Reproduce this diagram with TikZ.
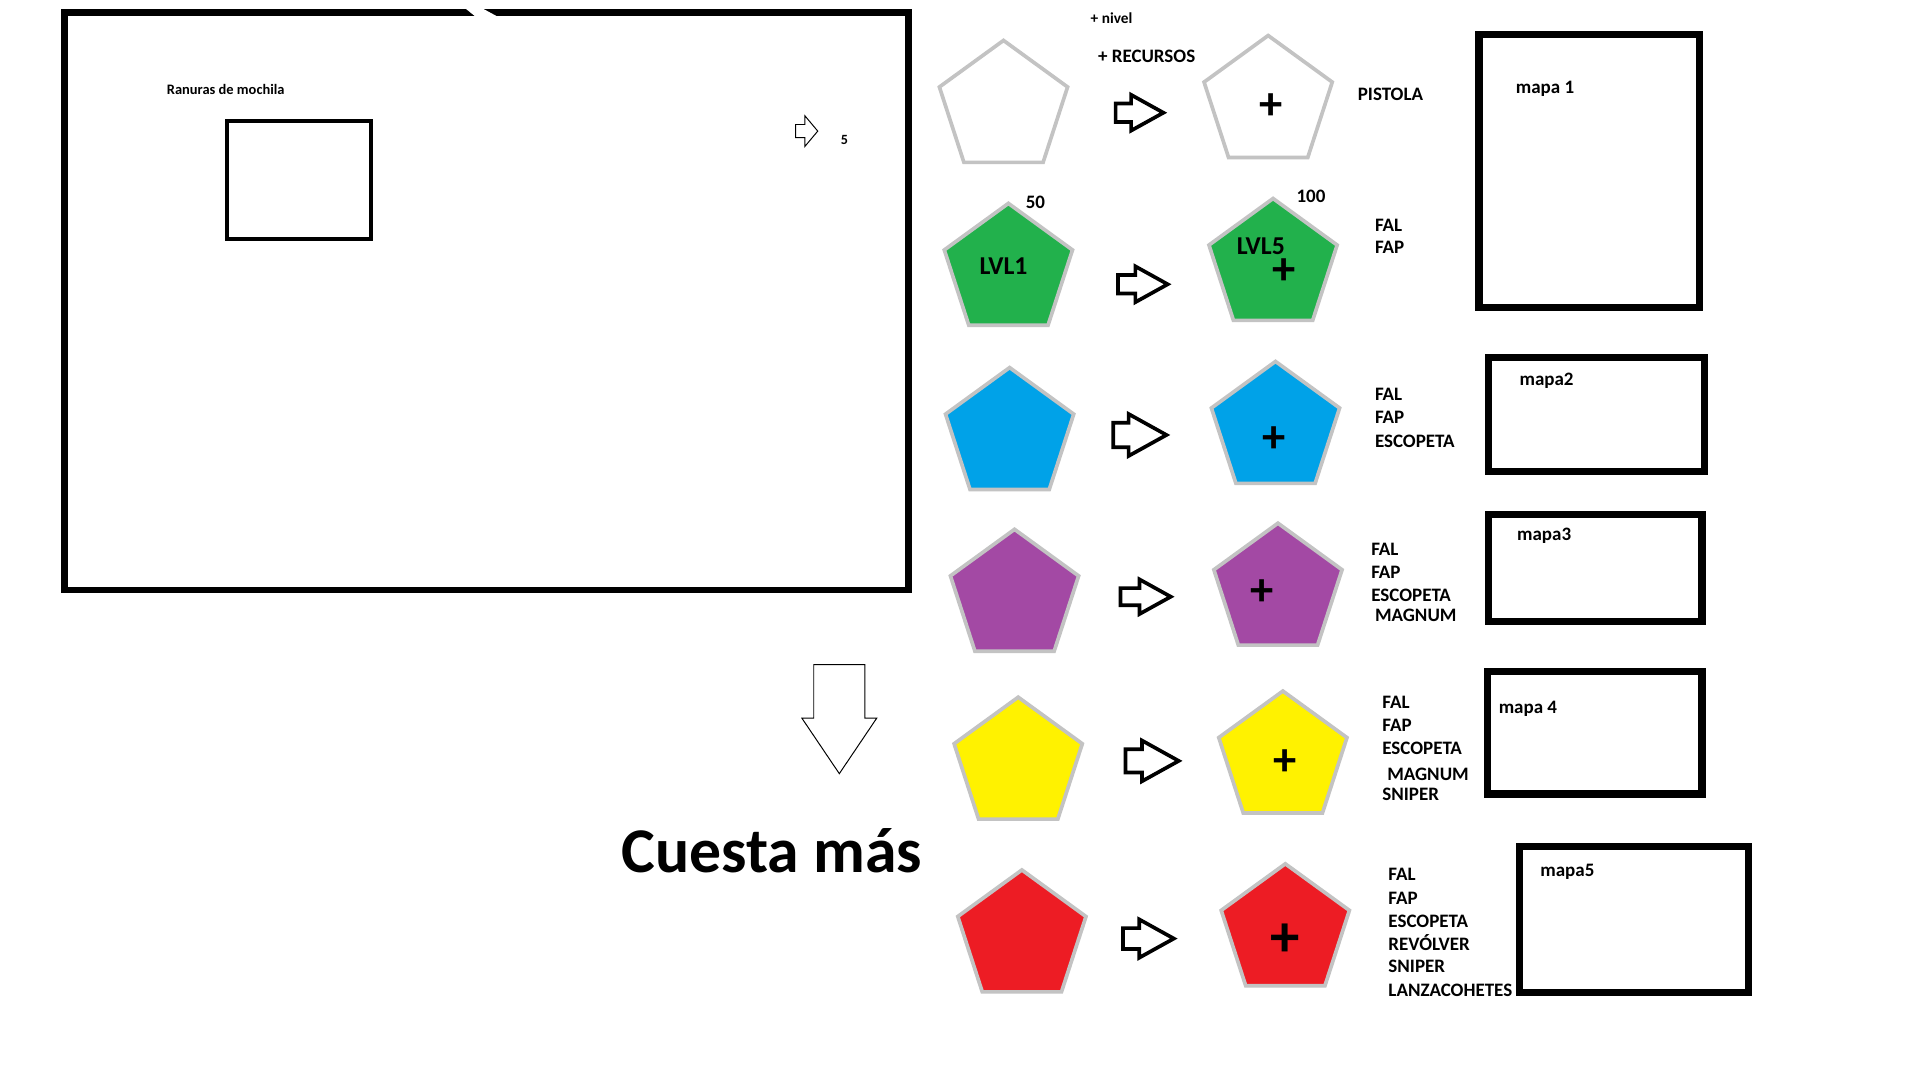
\documentclass[tikz,border=0pt]{standalone}
\usepackage{fontspec}
\setmainfont{Carlito}
\usetikzlibrary{shapes.geometric,shapes.arrows}
\definecolor{gemgray}{HTML}{C3C3C3}
\definecolor{gemgreen}{HTML}{22B14C}
\definecolor{gemblue}{HTML}{00A2E8}
\definecolor{gempurple}{HTML}{A349A4}
\definecolor{gemyellow}{HTML}{FFF200}
\definecolor{gemred}{HTML}{ED1C24}
\tikzset{
  gem/.style={regular polygon,regular polygon sides=5,draw=gemgray,line width=3pt,minimum size=110pt,inner sep=0pt},
  upgrade/.style={single arrow,draw,line width=3pt,fill=white,single arrow tip angle=58,anchor=tail},
  weapon/.style={font=\bfseries\fontsize{15.5}{18}\selectfont,inner sep=0pt,anchor=base west},
  plussign/.style={font=\bfseries\fontsize{38}{38}\selectfont,inner sep=0pt},
  mapbox/.style={line width=6pt}
}
\begin{document}
\begin{tikzpicture}[x=1pt,y=-1pt]
            % Canvas
            \fill[white] (0,0) rectangle (1567,881.4);
            \useasboundingbox (0,0) rectangle (1567,881.4);
            % Backpack window
            \draw[line width=5.5pt] (52.5,10.5) rectangle (741.5,481.5);
            \fill[white] (380,7) -- (394,7) -- (406,13.5) -- (388,13.5) -- cycle;
            \node[font=\bfseries\fontsize{11.8}{14}\selectfont,inner sep=0pt,anchor=base west] (ranuras) at (136,77) {Ranuras de mochila};
            \draw[line width=3.5pt] (185,99) rectangle (303,195);
            \node[single arrow,draw,line width=.8pt,anchor=tail,inner sep=5pt,minimum width=20pt,minimum height=18pt,single arrow tip angle=100] (slotarrow) at (649,107) {};
            \node[font=\bfseries\fontsize{11.5}{13}\selectfont,inner sep=0pt,anchor=base west] (slots) at (686,118) {5};
            % Cost arrow
            \node[single arrow,draw,line width=.8pt,shape border rotate=270,anchor=tail,inner sep=15pt,minimum width=61pt,minimum height=89pt,single arrow tip angle=68] (costarrow) at (685,542) {};
            \node[font=\bfseries\fontsize{52}{60}\selectfont,inner sep=0pt,anchor=base west] (cuesta) at (507,712) {Cuesta más};
            % Headers
            \node[font=\bfseries\fontsize{12.5}{14}\selectfont,inner sep=0pt,anchor=base west] (nivel) at (890,19) {+ nivel};
            \node[weapon] (recursos) at (896,51) {+ RECURSOS};
            % Gems
            \node[gem,fill=white] (white1) at (819,88) {};
            \node[gem,fill=white] (white2) at (1035,84) {};
            \node[gem,fill=gemgreen] (green1) at (823,221) {};
            \node[gem,fill=gemgreen] (green2) at (1039,217) {};
            \node[gem,fill=gemblue] (blue1) at (824,355) {};
            \node[gem,fill=gemblue] (blue2) at (1041,350) {};
            \node[gem,fill=gempurple] (purple1) at (828,487) {};
            \node[gem,fill=gempurple] (purple2) at (1043,482) {};
            \node[gem,fill=gemyellow] (yellow1) at (831,624) {};
            \node[gem,fill=gemyellow] (yellow2) at (1047,619) {};
            \node[gem,fill=gemred] (red1) at (834,765) {};
            \node[gem,fill=gemred] (red2) at (1049,760) {};
            % Gem texts
            \node[weapon] (cost50) at (837,170) {50};
            \node[weapon] (cost100) at (1058,165) {100};
            \node[font=\bfseries\fontsize{21}{24}\selectfont,inner sep=0pt,anchor=base] (lvl1) at (819,224) {LVL1};
            \node[font=\bfseries\fontsize{21}{24}\selectfont,inner sep=0pt,anchor=base] (lvl5) at (1029,208) {LVL5};
            \node[plussign] (plus1) at (1037,87) {+};
            \node[plussign] (plus2) at (1048,222) {+};
            \node[plussign] (plus3) at (1040,359) {+};
            \node[plussign] (plus4) at (1030,484) {+};
            \node[plussign] (plus5) at (1049,622) {+};
            \node[plussign,font=\bfseries\fontsize{48}{48}\selectfont] (plus6) at (1049,767) {+};
            % Upgrade arrows
            \node[upgrade,inner sep=6pt,minimum width=23pt,minimum height=39pt] (upwhite) at (909,92) {};
            \node[upgrade,inner sep=6pt,minimum width=24pt,minimum height=40.5pt] (upgreen) at (911,232) {};
            \node[upgrade,inner sep=8.5pt,minimum width=30pt,minimum height=43.5pt] (upblue) at (907,355) {};
            \node[upgrade,inner sep=5.5pt,minimum width=21pt,minimum height=41pt] (uppurple) at (913,487) {};
            \node[upgrade,inner sep=8pt,minimum width=29pt,minimum height=43.5pt] (upyellow) at (917,621) {};
            \node[upgrade,inner sep=7pt,minimum width=27pt,minimum height=41.5pt] (upred) at (915,766) {};
            % Weapons
            \node[weapon] (pistola) at (1108,82) {PISTOLA};
            \node[weapon] (fal2) at (1122,189) {FAL};
            \node[weapon] (fap2) at (1122,207) {FAP};
            \node[weapon] (fal3) at (1122,327) {FAL};
            \node[weapon] (fap3) at (1122,346) {FAP};
            \node[weapon] (esc3) at (1122,365) {ESCOPETA};
            \node[weapon] (fal4) at (1119,453) {FAL};
            \node[weapon] (fap4) at (1119,472) {FAP};
            \node[weapon] (esc4) at (1119,491) {ESCOPETA};
            \node[weapon] (mag4) at (1122,507) {MAGNUM};
            \node[weapon] (fal5) at (1128,578) {FAL};
            \node[weapon] (fap5) at (1128,597) {FAP};
            \node[weapon] (esc5) at (1128,616) {ESCOPETA};
            \node[weapon] (mag5) at (1132,637) {MAGNUM};
            \node[weapon] (sni5) at (1128,653) {SNIPER};
            \node[weapon] (fal6) at (1133,719) {FAL};
            \node[weapon] (fap6) at (1133,738) {FAP};
            \node[weapon] (esc6) at (1133,757) {ESCOPETA};
            \node[weapon] (rev6) at (1133,776) {REVÓLVER};
            \node[weapon] (sni6) at (1133,794) {SNIPER};
            \node[weapon] (lan6) at (1133,813) {LANZACOHETES};
            % Maps
            \draw[mapbox] (1207,28) rectangle (1387,251);
            \draw[mapbox] (1215,292) rectangle (1391,385);
            \draw[mapbox] (1215,420) rectangle (1389,507);
            \draw[mapbox] (1214,548) rectangle (1389,648);
            \draw[mapbox] (1240,691) rectangle (1427,810);
            \node[weapon] (mapa1) at (1237,76) {mapa 1};
            \node[weapon] (mapa2) at (1240,315) {mapa2};
            \node[weapon] (mapa3) at (1238,441) {mapa3};
            \node[weapon] (mapa4) at (1223,582) {mapa 4};
            \node[weapon] (mapa5) at (1257,715) {mapa5};
\end{tikzpicture}
\end{document}
